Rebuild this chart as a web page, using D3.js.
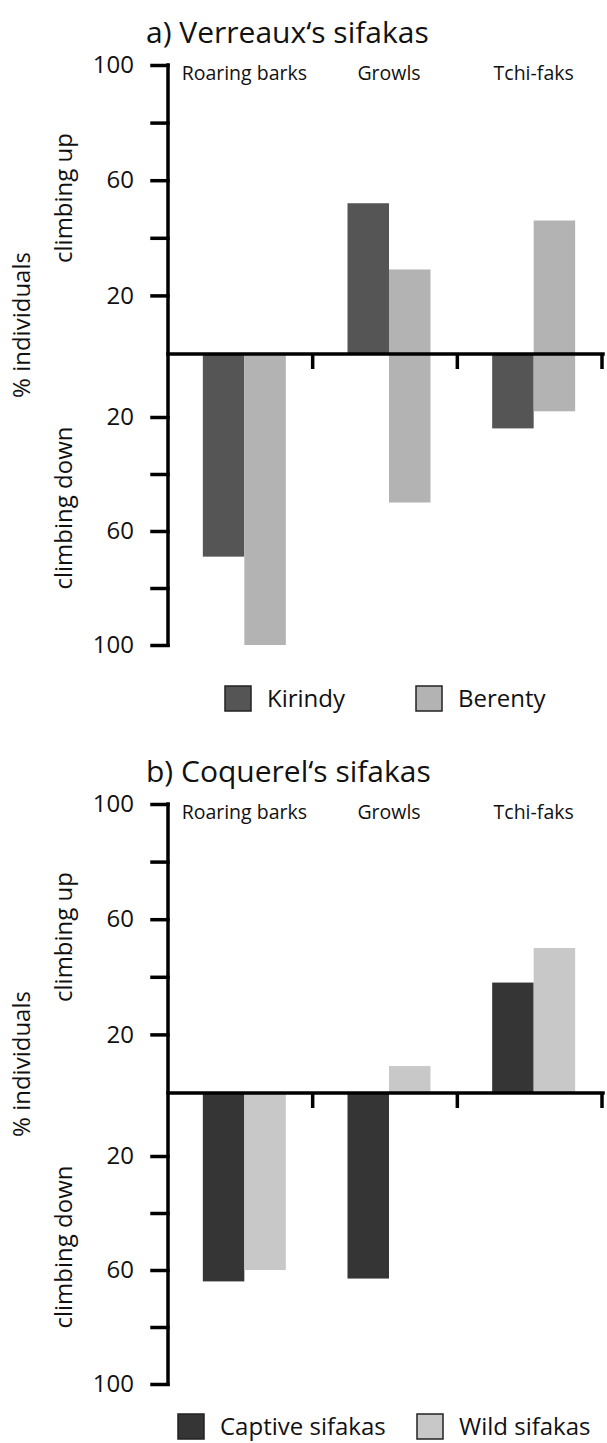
<!DOCTYPE html>
<html>
<head>
<meta charset="utf-8">
<script src="https://cdn.jsdelivr.net/npm/d3@7"></script>
<style>
  html, body { margin: 0; padding: 0; background: #fff; }
  svg { display: block; font-family: "Open Sans", sans-serif; }
</style>
</head>
<body>
<div id="chart"></div>
<script>
// ---- data ----
const categories = ["Roaring barks", "Growls", "Tchi-faks"];

const titleA = "a) Verreaux\u2018s sifakas";
const seriesA = ["Kirindy", "Berenty"];
const kirindyUp = [0, 52, 0];
const kirindyDown = [69, 0, 24];
const berentyUp = [0, 29, 46];
const berentyDown = [100, 50, 18];

const titleB = "b) Coquerel\u2018s sifakas";
const seriesB = ["Captive sifakas", "Wild sifakas"];
const captiveUp = [0, 0, 38];
const captiveDown = [64, 63, 0];
const wildUp = [0, 9, 50];
const wildDown = [60, 0, 0];

const tickValues = [20, 40, 60, 80, 100];
const labeledTicks = [20, 60, 100];
const yTitle = "% individuals";
const upLabel = "climbing up";
const downLabel = "climbing down";

// ---- layout ----
const W = 607, H = 1443;
const svg = d3.select("#chart").append("svg").attr("width", W).attr("height", H);
svg.append("rect").attr("width", W).attr("height", H).attr("fill", "#fff");

const axisX = 168;
const x = d3.scaleBand().domain(categories).range([170, 604]).paddingInner(0).paddingOuter(0);
const pairW = 83;
const pairShift = 2;

function drawPanel(dy, title, series, up, down, colors, legendX, legendY) {
  const g = svg.append("g").attr("transform", `translate(0,${dy})`);
  const yUp = d3.scaleLinear().domain([0, 100]).range([353, 65]);
  const yDown = d3.scaleLinear().domain([0, 100]).range([360, 645]);
  const zeroY = 354;

  const xs = d3.scaleBand().domain(series).range([0, pairW]);
  const pairX = c => x(c) + (x.bandwidth() - pairW) / 2 + pairShift;

  // title
  g.append("text").attr("x", 146).attr("y", 43)
    .attr("font-size", 30).attr("fill", "#111").text(title);

  // category labels
  g.selectAll(".cat").data(categories).join("text")
    .attr("x", c => pairX(c) + pairW / 2)
    .attr("y", 80).attr("text-anchor", "middle")
    .attr("font-size", 19.5).attr("fill", "#111").text(c => c);

  // bars
  series.forEach((s, si) => {
    g.selectAll(".up" + si).data(categories.map((c, i) => ({c, v: up[si][i]})).filter(d => d.v > 0))
      .join("rect")
      .attr("x", d => pairX(d.c) + xs(s))
      .attr("width", xs.bandwidth())
      .attr("y", d => yUp(d.v))
      .attr("height", d => zeroY - yUp(d.v))
      .attr("fill", colors[si]);
    g.selectAll(".down" + si).data(categories.map((c, i) => ({c, v: down[si][i]})).filter(d => d.v > 0))
      .join("rect")
      .attr("x", d => pairX(d.c) + xs(s))
      .attr("width", xs.bandwidth())
      .attr("y", zeroY)
      .attr("height", d => yDown(d.v) - zeroY)
      .attr("fill", colors[si]);
  });

  const sw = 3.5;
  // vertical axis line
  g.append("line").attr("x1", axisX).attr("x2", axisX)
    .attr("y1", yUp(100)).attr("y2", yDown(100))
    .attr("stroke", "#000").attr("stroke-width", sw).attr("stroke-linecap", "square");

  // y ticks (up & down) via d3 axes
  const upAxis = d3.axisLeft(yUp).tickValues(tickValues).tickSize(16)
    .tickFormat(d => labeledTicks.includes(d) ? d : "").tickPadding(18);
  const downAxis = d3.axisLeft(yDown).tickValues(tickValues).tickSize(16)
    .tickFormat(d => labeledTicks.includes(d) ? d : "").tickPadding(18);
  [upAxis, downAxis].forEach(ax => {
    const a = g.append("g").attr("transform", `translate(${axisX},0)`).call(ax);
    a.select(".domain").remove();
    a.selectAll(".tick line").attr("stroke", "#000").attr("stroke-width", sw).attr("stroke-linecap", "square");
    a.selectAll(".tick text").attr("font-size", 24).attr("fill", "#111")
      .attr("font-family", "'Open Sans', sans-serif");
  });

  // zero line with category ticks
  g.append("line").attr("x1", axisX).attr("x2", x.range()[1] - 1)
    .attr("y1", zeroY).attr("y2", zeroY)
    .attr("stroke", "#000").attr("stroke-width", sw).attr("stroke-linecap", "square");
  g.selectAll(".ctick").data(categories).join("line")
    .attr("x1", c => x(c) + x.bandwidth() - 2).attr("x2", c => x(c) + x.bandwidth() - 2)
    .attr("y1", zeroY).attr("y2", zeroY + 15)
    .attr("stroke", "#000").attr("stroke-width", sw);

  // axis titles
  g.append("text").attr("transform", `translate(30,325) rotate(-90)`)
    .attr("text-anchor", "middle").attr("font-size", 24).attr("fill", "#111").text(yTitle);
  g.append("text").attr("transform", `translate(72,198) rotate(-90)`)
    .attr("text-anchor", "middle").attr("font-size", 24).attr("fill", "#111").text(upLabel);
  g.append("text").attr("transform", `translate(72,508) rotate(-90)`)
    .attr("text-anchor", "middle").attr("font-size", 24).attr("fill", "#111").text(downLabel);

  // legend
  series.forEach((s, si) => {
    g.append("rect").attr("x", legendX[si]).attr("y", legendY - 13)
      .attr("width", 26).attr("height", 25)
      .attr("fill", colors[si]).attr("stroke", "#222").attr("stroke-width", 1.5);
    g.append("text").attr("x", legendX[si] + 42).attr("y", legendY + 8)
      .attr("font-size", 24).attr("fill", "#111").text(s);
  });
}

drawPanel(0, titleA, seriesA, [kirindyUp, berentyUp], [kirindyDown, berentyDown],
  ["#555555", "#b3b3b3"], [225, 416], 699);
drawPanel(739, titleB, seriesB, [captiveUp, wildUp], [captiveDown, wildDown],
  ["#353535", "#c8c8c8"], [178, 417], 688);
</script>
</body>
</html>
